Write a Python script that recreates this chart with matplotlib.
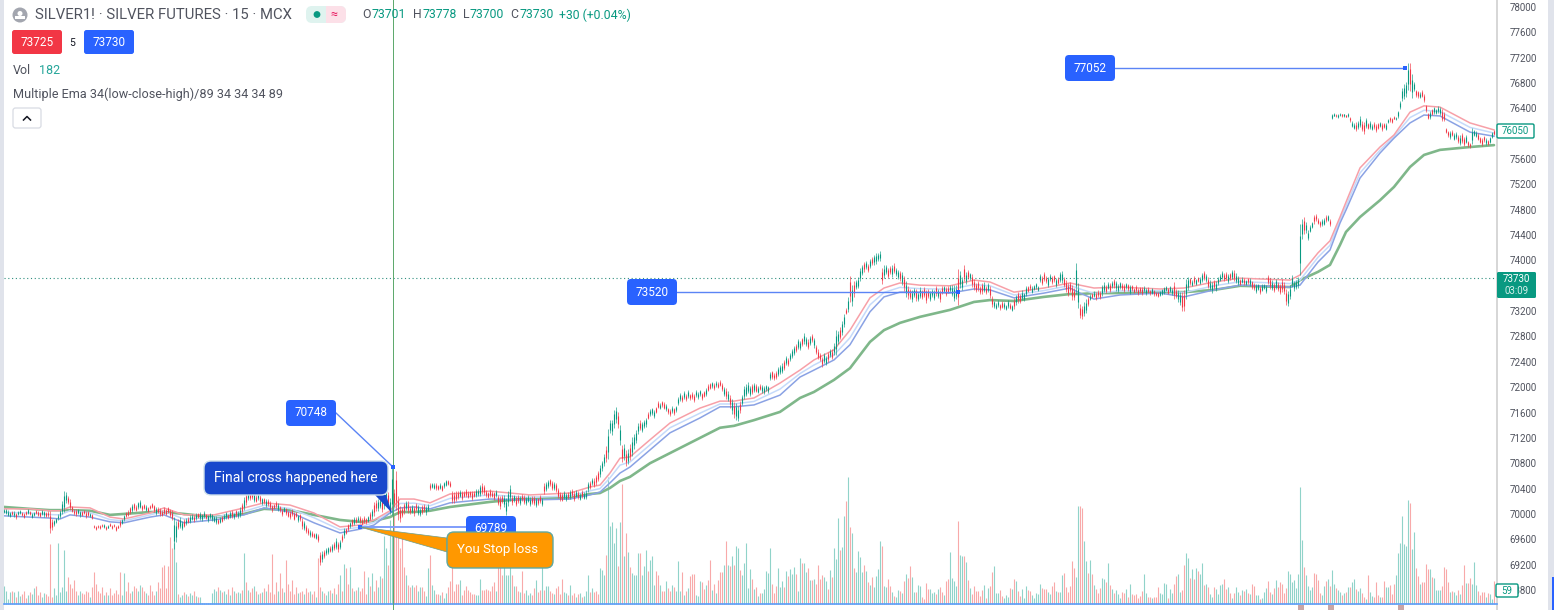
import matplotlib
matplotlib.use("Agg")
import matplotlib.pyplot as plt
from matplotlib.patches import FancyBboxPatch, Rectangle, Polygon, Circle

plt.rcParams['font.family'] = ['Roboto', 'DejaVu Sans']

W, H = 1554, 610
# price scale of the chart (price at pixel rows 0 and 610)
PRICE_TOP, PRICE_BOTTOM = 78110, 68484

bar_mid = [
70050,70040,70010,69990,70020,70000,69970,70010,70030,70000,
69980,70010,70040,70020,69980,70000,70030,70010,69990,70020,
70000,69990,70000,69870,69830,69860,69900,69950,70000,70100,
70200,70260,70220,70150,70080,70030,70020,70040,70000,70010,
70030,69990,70010,69980,69960,69800,69780,69800,69790,69820,
69810,69780,69800,69830,69790,69820,69770,69800,69850,69880,
69940,69990,70010,70060,70100,70120,70090,70140,70150,70100,
70120,70090,70070,70110,70130,70090,70050,70060,70030,70010,
70050,70030,70060,70020,69980,69700,69720,69840,69860,69820,
69850,69880,69900,69920,69950,69930,69960,69980,69970,69950,
69990,69960,69930,69970,69950,69920,69910,69880,69900,69920,
69950,69980,69960,69990,70000,69970,70010,69990,70030,70090,
70160,70240,70290,70280,70300,70260,70240,70270,70230,70200,
70210,70170,70180,70140,70090,70120,70150,70110,70080,70020,
70070,70040,70000,69980,70020,69960,69990,69930,69950,69850,
69820,69760,69720,69690,69680,69660,69650,69620,69300,69330,
69370,69410,69430,69440,69460,69500,69530,69480,69520,69620,
69700,69730,69790,69830,69870,69890,69900,69920,69910,69880,
69910,69890,69920,69960,70000,70080,70130,70140,70170,70130,
70200,70280,70230,70120,70360,70250,70370,70100,70000,70030,
70090,70130,70110,70060,70080,70050,70110,70060,70030,70070,
70090,70060,70100,70430,70450,70440,70430,70420,70440,70410,
70460,70490,70500,70470,70270,70260,70280,70300,70320,70290,
70310,70330,70300,70320,70290,70310,70330,70340,70370,70400,
70380,70320,70300,70330,70310,70290,70320,70220,70180,70240,
70200,70110,70250,70330,70220,70250,70200,70240,70210,70260,
70230,70200,70240,70190,70220,70210,70180,70200,70230,70190,
70400,70430,70470,70500,70450,70440,70420,70330,70280,70260,
70300,70270,70290,70310,70330,70280,70320,70300,70270,70310,
70290,70300,70430,70460,70510,70490,70540,70600,70680,70760,
70850,70950,71100,71380,71370,71500,71560,71480,71250,70950,
70980,70880,70900,70980,71060,71150,71220,71350,71400,71370,
71420,71450,71550,71600,71620,71580,71640,71720,71700,71740,
71710,71680,71630,71600,71650,71620,71660,71780,71850,71820,
71880,71840,71890,71850,71870,71830,71900,71870,71910,71860,
71890,71920,71990,72020,72040,72010,72050,72030,72060,72000,
71930,71900,71860,71780,71700,71640,71620,71580,71690,71800,
71920,71950,71990,71940,71970,72000,71980,71960,72000,71970,
71950,71990,71970,72180,72200,72170,72190,72250,72280,72300,
72350,72420,72400,72470,72530,72580,72620,72680,72660,72720,
72770,72720,72680,72740,72780,72700,72600,72520,72470,72400,
72460,72420,72480,72540,72520,72600,72700,72780,72850,72930,
73050,73200,73300,73550,73450,73550,73620,73650,73780,73850,
73900,73930,73880,73950,73990,74010,74030,74050,74070,73750,
73820,73860,73800,73850,73830,73880,73820,73780,73760,73720,
73640,73550,73500,73470,73440,73500,73460,73430,73490,73460,
73500,73430,73480,73440,73490,73450,73520,73480,73440,73530,
73550,73510,73540,73560,73520,73480,73500,73580,73700,73640,
73800,73720,73780,73750,73680,73620,73570,73600,73530,73560,
73580,73530,73570,73500,73350,73310,73280,73320,73270,73300,
73290,73260,73310,73280,73250,73320,73380,73420,73400,73450,
73430,73520,73550,73580,73540,73570,73600,73560,73720,73680,
73750,73700,73660,73730,73690,73720,73650,73680,73740,73740,
73660,73600,73540,73580,73500,73470,73720,73450,73200,73180,
73230,73280,73350,73420,73450,73470,73440,73480,73460,73530,
73580,73550,73600,73570,73620,73640,73600,73570,73610,73590,
73560,73600,73580,73540,73570,73530,73560,73510,73540,73520,
73550,73510,73530,73500,73520,73490,73470,73460,73480,73500,
73530,73560,73520,73550,73510,73530,73480,73440,73400,73350,
73370,73550,73640,73670,73640,73690,73660,73700,73680,73730,
73760,73720,73650,73610,73570,73620,73590,73680,73730,73770,
73740,73760,73720,73750,73780,73760,73720,73680,73660,73690,
73670,73650,73680,73660,73620,73590,73560,73580,73540,73570,
73590,73550,73700,73640,73610,73570,73630,73590,73550,73600,
73560,73420,73400,73500,73680,73600,73620,73650,74170,74500,
74550,74520,74400,74500,74560,74650,74680,74620,74580,74600,
74610,74660,74670,74600,76270,76300,76290,76280,76300,76290,
76290,76280,76290,76230,76150,76120,76110,76140,76190,76120,
76090,76170,76120,76140,76100,76130,76090,76120,76150,76100,
76130,76110,76200,76230,76210,76250,76240,76310,76450,76620,
76660,76700,76900,76900,76750,76740,76640,76620,76610,76630,
76560,76400,76280,76300,76340,76370,76350,76380,76360,76290,
76270,76050,76000,75980,76010,75950,75970,75920,75900,75930,
75880,75910,75840,75820,75960,76010,75990,75950,75900,75870,
75920,75880,75860,75900,75980,76020]

bar_range = [
80,100,120,90,80,100,110,80,70,90,
100,80,90,70,100,80,90,100,80,90,
110,80,100,410,200,120,100,100,150,250,
400,200,150,200,120,100,130,90,110,100,
90,120,100,80,90,60,70,60,80,50,
60,80,70,60,70,60,80,70,120,100,
110,100,120,130,150,140,120,130,150,110,
100,120,110,90,100,130,150,110,140,120,
130,110,120,150,180,600,400,180,200,160,
150,130,120,140,110,130,120,100,150,130,
120,100,140,110,130,120,150,100,120,110,
100,130,110,120,140,110,130,120,180,200,
250,220,180,160,140,180,130,120,150,130,
110,140,120,150,130,100,120,140,110,130,
110,140,120,160,130,150,110,140,130,200,
160,150,120,130,110,100,120,150,250,200,
160,120,130,110,140,150,200,180,160,150,
180,120,130,110,130,150,120,100,130,140,
120,110,130,150,180,250,200,220,190,250,
300,340,280,300,900,350,740,450,300,200,
200,180,220,150,160,190,140,200,160,180,
150,170,140,120,100,110,130,90,110,120,
110,120,90,100,220,200,180,150,140,170,
120,150,130,110,160,120,140,130,220,200,
180,130,120,140,110,150,120,200,260,150,
220,320,280,300,170,130,190,150,170,140,
180,150,130,170,140,160,180,130,150,140,
200,180,150,130,170,160,180,200,170,150,
160,140,130,170,150,190,140,160,130,150,
140,170,190,150,130,170,180,200,220,190,
240,300,570,240,280,350,310,300,370,320,
290,310,280,300,350,280,250,200,180,200,
150,170,130,120,140,150,110,130,120,110,
140,120,110,130,120,140,110,160,150,130,
150,120,140,110,130,150,140,120,110,130,
120,150,130,120,110,130,100,120,110,150,
170,200,180,240,280,300,320,280,220,200,
250,230,210,180,200,170,150,130,120,140,
150,110,130,160,150,130,140,170,160,180,
200,180,160,150,170,180,160,200,180,150,
200,170,180,160,150,180,170,190,150,180,
200,170,190,160,180,220,470,250,230,270,
240,100,280,500,400,300,170,220,240,190,
180,160,150,170,160,180,200,150,170,300,
240,170,200,160,220,180,150,170,190,240,
280,310,240,190,210,170,230,180,200,160,
190,230,170,200,150,190,180,160,220,150,
130,180,140,120,210,300,260,680,320,240,
300,230,170,130,240,200,170,190,150,210,
180,160,170,230,200,130,110,140,120,130,
120,100,150,110,130,200,180,210,170,190,
150,200,120,100,140,90,120,100,150,170,
160,140,180,120,150,130,170,140,200,240,
180,220,250,200,280,230,580,470,250,240,
260,250,170,120,100,110,140,130,150,210,
180,150,130,170,120,160,190,150,130,120,
150,110,130,160,120,100,130,120,110,140,
100,130,110,90,120,110,80,90,100,120,
130,100,120,110,130,320,180,210,230,370,
400,370,240,140,120,150,130,110,140,170,
180,160,220,180,200,170,190,150,140,160,
140,150,170,130,180,200,190,160,120,110,
130,100,120,140,150,130,170,120,150,130,
110,160,170,200,180,160,190,180,200,250,
220,300,290,250,220,180,170,200,950,370,
320,210,180,130,120,160,130,100,110,120,
130,130,110,130,100,60,50,70,50,60,
60,50,70,90,120,110,160,150,210,180,
220,190,120,140,110,130,160,120,100,150,
110,130,70,90,80,60,70,130,160,240,
280,290,500,530,440,170,130,140,110,130,
160,140,130,150,120,130,110,120,140,230,
180,100,120,140,110,130,120,150,180,190,
170,150,100,90,300,120,110,130,120,160,
110,130,100,120,110,80]

# volume of every bar; a negative sign marks a falling (red) bar
signed_volume = [
81,60,21,55,-60,55,-30,60,35,-45,
-60,-25,40,-55,45,70,-80,-40,-55,30,
50,-45,-35,
-270,-30,70,40,273,55,75,243,60,-123,
-90,-70,-108,-60,40,60,-50,-45,-60,-55,
30,-75,-145,-90,-60,-50,-75,40,-55,40,
-70,-40,-50,-65,-45,-145,40,140,-60,-100,
-50,60,-80,-70,60,85,-75,-60,50,-40,
-85,-60,-40,60,-100,-70,-165,-175,-70,-170,
-300,-250,273,190,
-45,30,40,-55,45,-35,50,40,-60,35,-30,30,
6,6,-6,6,6,
50,66,60,-75,65,-55,60,45,-66,40,-75,60,-50,55,50,-65,
228,-100,65,-55,-70,80,-60,45,-50,55,
-70,60,-90,-55,-225,-45,-100,60,-140,-70,
55,-198,-90,-60,-110,-45,-75,50,-55,-60,
45,-70,-55,60,-45,-60,30,-205,-75,60,
-50,40,60,-65,50,-70,45,-90,130,-60,
180,-160,-90,165,-70,60,-65,75,-60,-70,
-150,-45,120,-80,140,-60,-110,75,
128,-118,308,254,-177,380,327,-410,-308,-308,
-254,-308,-168,132,-87,-78,87,-78,-87,60,
78,-78,-60,38,164,-222,87,65,-46,-46,
42,-55,28,51,-78,-105,-301,-60,-92,-92,
110,-42,-65,-82,-65,-55,-46,-46,42,42,
114,-65,-65,-69,-65,-60,-82,-100,60,-200,
-168,-132,260,132,132,316,-132,82,-82,-60,
55,-150,-51,65,42,51,-42,-73,110,-55,
-65,190,-65,82,82,-60,-51,46,-73,-82,
-46,-114,55,51,-42,87,-42,-51,33,-46,
51,-33,38,60,132,-55,73,-55,-60,-46,
164,155,130,-222,573,350,370,275,344,-170,
370,-542,218,-321,236,-168,140,132,132,231,
-231,132,171,245,-150,200,218,87,-147,-132,
87,-60,-60,102,-73,-60,85,-77,60,195,
60,-145,42,-60,73,-125,-136,-136,42,38,
105,-100,-69,87,-110,-200,65,-92,50,-110,
-145,-145,177,-285,177,-172,218,-177,262,253,
-155,132,186,275,73,
159,-112,69,-78,37,-51,51,69,150,141,
253,-91,-51,-82,163,78,105,-78,150,-127,
159,136,168,-136,60,208,-186,186,145,-163,
110,-110,114,-91,-177,-114,-132,123,105,-69,
154,-123,253,204,388,-244,258,397,-465,573,
-348,321,-163,145,240,213,145,-177,150,-100,
87,-123,78,127,159,285,-262,82,78,-114,
-82,55,-37,33,64,-60,51,-105,136,-118,
-172,123,55,-55,87,82,-33,-24,-96,-69,
69,51,55,-46,69,-78,-55,42,-105,-114,
235,118,105,82,-375,222,217,-217,190,-110,
73,-46,-82,-60,-60,-37,-64,87,-28,73,
-82,-145,172,51,51,-64,-37,28,42,33,
-73,69,-114,105,-60,-37,69,28,82,-64,
-60,42,28,51,46,91,-73,-69,-69,55,
46,-82,-100,60,-55,55,132,-141,-78,-55,
-82,-195,-163,123,442,-442,-433,285,195,-141,
199,-136,87,-69,-51,-73,118,114,-100,186,
-87,69,-51,64,46,
28,-55,-51,69,-33,91,-46,-42,-46,-28,
-37,-60,136,51,-33,-33,28,-33,-33,-78,
51,46,96,91,-28,69,51,-91,-127,136,
55,-64,-177,231,208,-118,159,-114,163,-150,
136,186,-87,91,-78,46,33,-78,69,46,
87,91,-114,-69,78,-51,28,-51,78,55,
-42,65,-60,69,-51,46,-92,-82,42,42,
-24,28,55,73,-105,-55,46,-73,110,-78,
-100,-92,-51,-73,150,136,100,110,73,136,
528,290,-168,132,82,64,78,-141,-136,-110,
-51,42,82,-105,114,-82,155,91,-73,64,
55,-42,51,-55,78,-78,100,114,-69,60,
73,-51,-33,24,-132,55,37,-33,-100,-42,
33,-33,-105,78,78,-87,-46,-92,132,231,
276,397,271,262,469,-456,249,325,-163,-127,
92,-100,-100,-181,-159,159,-123,118,65,65,
65,-82,-168,-159,-100,55,-60,55,42,-64,
46,-87,-177,96,-96,-118,92,190,87,-60,
-42,-55,-55,33,-51,46,24,-105]

# moving average lines, read at these bar numbers
ema_bar = [0,13,23,28,33,43,53,60,73,80,
90,105,120,130,143,155,168,178,185,193,
198,205,213,223,243,263,283,293,298,303,
308,313,323,333,348,358,365,375,388,398,
405,415,423,433,440,448,458,473,485,493,
505,520,533,538,545,558,578,590,605,618,
643,648,657,663,668,671,678,688,695,703,
710,718,733,745]
ema_high = [
70080,70080,70050,70050,70110,70095,69950,69920,70015,70095,
69985,69985,70095,70175,70140,70015,69795,69825,69905,70050,
70235,70235,70175,70315,70360,70300,70330,70425,70455,70645,
70880,70900,71170,71435,71670,71780,71780,71830,72065,72270,
72430,72590,72900,73410,73565,73645,73610,73600,73690,73660,
73500,73565,73645,73610,73565,73580,73550,73565,73660,73720,
73690,73770,74120,74310,74685,74920,75460,75790,75980,76340,
76440,76420,76170,76060]
ema_close = [
70025,70015,69990,69985,70050,70020,69910,69890,69985,70040,
69920,69945,70040,70135,70085,69940,69750,69790,69865,70030,
70165,70170,70130,70245,70300,70260,70285,70365,70400,70570,
70770,70820,71090,71360,71590,71735,71735,71775,71970,72215,
72350,72510,72780,73300,73495,73575,73555,73545,73620,73600,
73455,73525,73605,73550,73480,73520,73520,73495,73600,73665,
73635,73690,74050,74240,74640,74860,75380,75740,75955,76255,
76370,76350,76100,76010]
ema_low = [
69970,69950,69935,69920,69985,69950,69875,69860,69950,69985,
69860,69905,69985,70095,70030,69860,69700,69760,69825,70015,
70095,70110,70080,70175,70235,70220,70235,70300,70345,70490,
70645,70740,71010,71280,71515,71690,71690,71720,71875,72160,
72270,72430,72670,73190,73425,73500,73500,73485,73550,73535,
73410,73485,73565,73485,73390,73455,73485,73425,73535,73610,
73580,73610,73975,74165,74590,74795,75300,75695,75930,76170,
76295,76280,76025,75960]
ema_89 = [
70110,70080,70060,70060,70060,70050,69985,70000,70030,70030,
70000,69950,70000,70080,70060,69985,69905,69875,69890,69950,
70030,70030,70050,70110,70190,70250,70250,70315,70330,70410,
70520,70585,70800,70960,71200,71360,71390,71480,71610,71830,
71925,72115,72300,72715,72900,73015,73110,73220,73345,73375,
73360,73425,73470,73470,73485,73485,73500,73500,73535,73600,
73580,73690,73820,73930,74245,74450,74685,74950,75160,75475,
75665,75745,75790,75820]

# the ticks under the two price tags (73600, 76000) are hidden in the reference
price_ticks = [68800,69200,69600,70000,70400,70800,71200,71600,72000,72400,72800,
               73200,74000,74400,74800,75200,75600,76400,76800,77200,77600,78000]
last_price = 73730
callouts = ["77052", "73520", "70748", "69789"]

assert len(bar_mid) == len(bar_range) == len(signed_volume), (len(bar_mid), len(bar_range), len(signed_volume))

UP, DOWN = '#089981', '#f23645'
UP_V, DOWN_V = '#90d3c9', '#f8a9a9'
GRAY = '#50535e'

fig = plt.figure(figsize=(W / 100, H / 100), dpi=100, facecolor='white')

L, R = 4, 1497
rect = [L / W, 0, (R - L) / W, 1]
ax = fig.add_axes(rect, facecolor='none', zorder=2)
vax = fig.add_axes(rect, facecolor='none', zorder=1)

bars = list(range(len(bar_mid)))
xlim = (0, (R - L) / 2)
ax.set_xlim(xlim)
vax.set_xlim(xlim)
ax.set_ylim(PRICE_BOTTOM, PRICE_TOP)
vax.set_ylim(-27, 2718)

# volume
vax.vlines(bars, 0, [abs(v) for v in signed_volume],
           colors=[UP_V if v > 0 else DOWN_V for v in signed_volume], lw=0.8)
vax.axis('off')

# moving averages
ax.plot(ema_bar, ema_89, color='#7fb78a', lw=1.9, zorder=3, solid_capstyle='round')
ax.plot(ema_bar, ema_close, color='#c5dafa', lw=1.1, zorder=3)
ax.plot(ema_bar, ema_low, color='#8aa2e4', lw=1.1, zorder=3)
ax.plot(ema_bar, ema_high, color='#f7a0a8', lw=1.1, zorder=3)

# candles
colors = [UP if v > 0 else DOWN for v in signed_volume]
lows = [m - r * 0.42 for m, r in zip(bar_mid, bar_range)]
highs = [m + r * 0.42 for m, r in zip(bar_mid, bar_range)]
b_lo = [m - r * 0.22 for m, r in zip(bar_mid, bar_range)]
b_hi = [m + r * 0.22 for m, r in zip(bar_mid, bar_range)]
ax.vlines(bars, lows, highs, colors=colors, lw=0.45, zorder=4)
ax.vlines(bars, b_lo, b_hi, colors=colors, lw=0.8, zorder=4)

# price line
ax.axhline(last_price, color='#2f8f7f', lw=0.8, ls=(0, (1, 2.4)), zorder=2)

# right price axis
ax.yaxis.tick_right()
ax.set_yticks(price_ticks)
ax.set_yticklabels([str(t) for t in price_ticks], fontsize=7, color=GRAY)
ax.tick_params(axis='y', length=0, pad=9)
ax.set_xticks([])
for name, s in ax.spines.items():
    s.set_visible(name == 'right')
ax.spines['right'].set_color('#cfcfcf')
ax.spines['right'].set_linewidth(1.2)

# overlay in pixel rows and columns for the interface furniture
ui = fig.add_axes([0, 0, 1, 1], facecolor='none', zorder=5)
ui.set_xlim(0, W)
ui.set_ylim(H, 0)
ui.axis('off')

ui.add_patch(Rectangle((0, 0), 3.5, H, color='#e0e3eb', lw=0))
ui.add_patch(Rectangle((1548, 0), 6, H, color='#e0e3eb', lw=0))
ui.add_patch(Rectangle((1552, 577), 2, 33, color='#2962ff', lw=0))
ui.plot([L, R], [604, 604], color='#5a9cf8', lw=1.2, zorder=2)
ui.plot([393, 393], [0, H], color='#5aa86a', lw=0.7, zorder=2)
for x0 in (1298, 1328, 1398):
    ui.add_patch(Rectangle((x0, 605), 6, 5, color='#c9a6a6', lw=0))


def box(x0, y0, x1, y1, fc, ec='none', r=4, lw=1.0, z=6):
    ui.add_patch(FancyBboxPatch((x0 + r, y0 + r), x1 - x0 - 2 * r, y1 - y0 - 2 * r,
                                boxstyle=f'round,pad={r},rounding_size={r}',
                                fc=fc, ec=ec, lw=lw, zorder=z))


def label(x, y, s, color='white', size=8, ha='center', z=9):
    ui.text(x, y, s, color=color, fontsize=size, ha=ha, va='center', zorder=z)


# connector lines and anchor dots
LINK = '#7f9dfb'
for (x0, y0, x1, y1, lw) in [(1115, 68, 1405, 68, 1.0), (677, 292, 958, 292, 1.0),
                             (336, 413, 393, 467, 1.0), (466, 527, 360, 527, 1.4)]:
    ui.plot([x0, x1], [y0, y1], color=LINK if lw > 1 else '#5b84f5', lw=lw, zorder=5)
for (x1, y1) in [(1405, 68), (958, 292), (393, 467), (360, 527)]:
    ui.add_patch(Rectangle((x1 - 2, y1 - 2), 4, 4, color='#2962ff', lw=0, zorder=6))

# callouts with a value
for (x0, y0), s in zip([(1065, 55), (627, 279), (286, 400), (466, 516)], callouts):
    box(x0, y0, x0 + 50, y0 + 26, '#2962ff', z=6)
    label(x0 + 25, y0 + 13, s, size=8.5)

# text callouts with tails
ui.add_patch(Polygon([(360, 527), (447, 538), (447, 552)], closed=True, fc='#ff9800', ec='#6a9e8a', lw=0.5, zorder=7))
box(447, 532, 553, 568, '#ff9800', ec='#5fa8a0', r=7, z=7)
label(498, 550, 'You Stop loss', size=9.5)
ui.add_patch(Polygon([(375, 495), (386, 495), (392, 513)], closed=True, fc='#1848cc', ec='none', zorder=7))
box(204, 461, 388, 495, '#1848cc', ec='#cfe0ea', r=7, z=7)
label(296, 478, 'Final cross happened here', size=10.1)

# price axis tags
box(1497, 272, 1536, 298, UP, r=1.5, z=7)
label(1516.5, 279.5, '73730', size=7)
label(1516.5, 291, '03:09', size=7, color='#d5efea')
box(1497, 124, 1534, 138, 'white', ec=UP, r=1.5, z=7)
label(1515.5, 131, '76050', color=UP, size=7)
box(1496, 584, 1518, 597, 'white', ec=UP, r=1.5, z=7)
label(1507, 590.5, '59', color=UP, size=7)

# header
ui.add_patch(Circle((20, 15), 7.5, color='#a3a6af', lw=0, zorder=6))
ui.add_patch(Rectangle((15, 16), 10, 3, color='white', lw=0, zorder=7))
ui.add_patch(Circle((20, 13.5), 2.5, color='white', lw=0, zorder=7))
label(35, 15, 'SILVER1! · SILVER FUTURES · 15 · MCX', color=GRAY, size=10.7, ha='left')
box(306, 6, 346, 23, '#dff3ef', r=6, z=6)
box(326, 6, 346, 23, '#fce0e8', r=6, z=6)
ui.add_patch(Rectangle((326, 6), 8, 17, color='#fce0e8', lw=0, zorder=7))
ui.add_patch(Circle((317, 14.5), 3.4, color=UP, lw=0, zorder=8))
label(333.5, 14.5, '≈', color='#e91e63', size=9)

parts = [('O', GRAY), ('73701', UP), ('H', GRAY), ('73778', UP), ('L', GRAY), ('73700', UP),
         ('C', GRAY), ('73730', UP), ('+30 (+0.04%)', UP)]
offsets = [362, 372, 413, 423, 463, 470, 510, 520, 559]
for (s, c), x in zip(parts, offsets):
    label(x, 15, s, color=c, size=8.8, ha='left')

box(12, 30, 62, 54, '#f23645', r=2.5)
label(37, 42, '73725', size=8.5)
label(72, 42.5, '5', color='#131722', size=7.5)
box(84, 30, 134, 54, '#2962ff', r=2.5)
label(109, 42, '73730', size=8.5)
label(13, 71, 'Vol', color=GRAY, size=9, ha='left')
label(39, 71, '182', color='#26a69a', size=9, ha='left')
label(13, 94, 'Multiple Ema 34(low-close-high)/89 34 34 34 89', color=GRAY, size=9.1, ha='left')
box(13, 108, 41, 128, 'white', ec='#d8dbe3', r=2.5, lw=0.9)
ui.plot([23.5, 27, 30.5], [120, 116.5, 120], color='#131722', lw=1.1, zorder=8)

fig.savefig('out.png', dpi=100, facecolor='white')
